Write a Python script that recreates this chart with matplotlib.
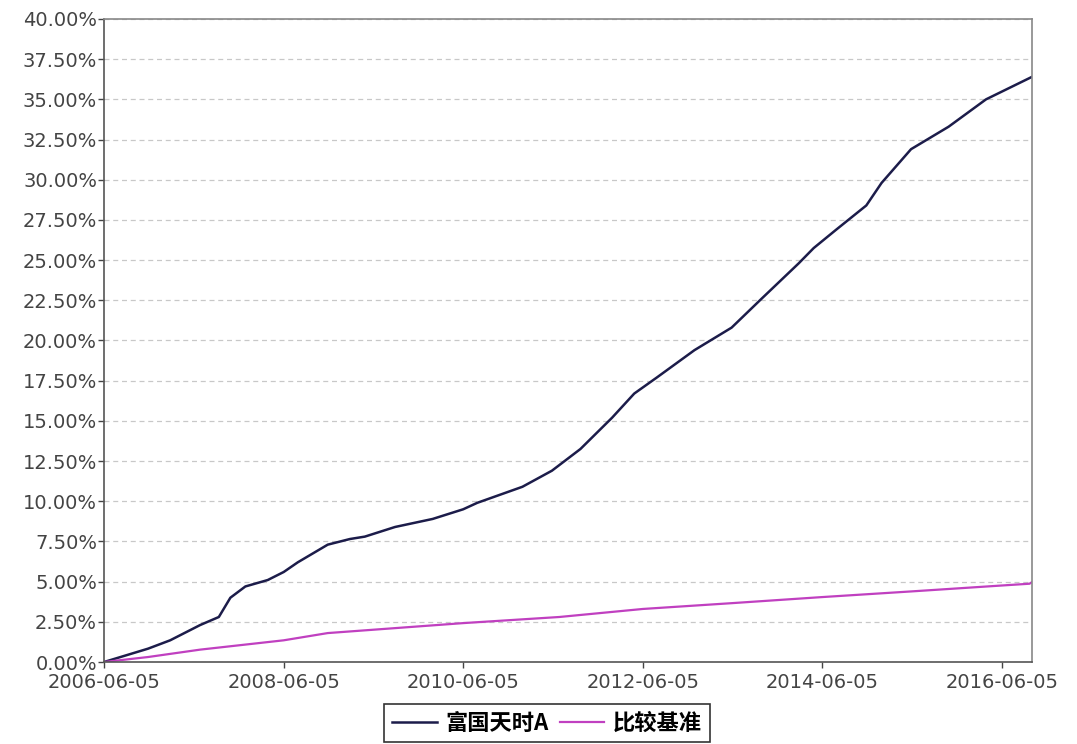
import matplotlib
matplotlib.use('Agg')
import matplotlib.pyplot as plt
import numpy as np
from datetime import datetime

# fund: 富国天时A, cumulative return (%)
fund_dates = ['2006-06-05', '2006-12-01', '2007-03-01', '2007-07-01', '2007-09-15',
              '2007-11-01', '2008-01-01', '2008-04-01', '2008-06-05', '2008-08-01',
              '2008-12-01', '2009-03-01', '2009-05-01', '2009-09-01', '2010-02-01',
              '2010-06-05', '2010-08-01', '2011-02-01', '2011-06-01', '2011-09-25',
              '2012-02-01', '2012-05-01', '2012-08-01', '2013-01-01', '2013-06-01',
              '2013-10-01', '2014-03-01', '2014-05-01', '2014-08-01', '2014-12-01',
              '2015-02-01', '2015-06-01', '2015-11-01', '2016-04-01', '2016-10-05']
fund_vals = [0.0, 0.83, 1.35, 2.3, 2.8,
             4.0, 4.7, 5.1, 5.6, 6.2,
             7.3, 7.65, 7.8, 8.4, 8.9,
             9.5, 9.9, 10.9, 11.9, 13.25,
             15.2, 16.7, 17.7, 19.4, 20.8,
             22.6, 24.8, 25.75, 26.9, 28.4,
             29.8, 31.9, 33.3, 35.0, 36.4]

# benchmark: 比较基准
bench_dates = ['2006-06-05', '2006-12-01', '2007-07-01', '2008-06-05', '2008-12-01',
               '2010-02-01', '2010-06-05', '2011-07-01', '2012-06-05', '2013-06-01',
               '2014-06-05', '2015-06-01', '2016-06-05', '2016-09-25', '2016-10-05']
bench_vals = [0.0, 0.31, 0.77, 1.35, 1.8,
              2.28, 2.42, 2.8, 3.3, 3.66,
              4.04, 4.39, 4.76, 4.87, 4.97]

fund_x = [datetime.strptime(d, '%Y-%m-%d') for d in fund_dates]
bench_x = [datetime.strptime(d, '%Y-%m-%d') for d in bench_dates]

tick_dates = ['2006-06-05', '2008-06-05', '2010-06-05', '2012-06-05', '2014-06-05', '2016-06-05']
tick_x = [datetime.strptime(d, '%Y-%m-%d') for d in tick_dates]

fig = plt.figure(figsize=(10.77, 7.44), dpi=100)
ax = fig.add_axes([0.0966, 0.1102, 0.8616, 0.8643])

l1, = ax.plot(fund_x, fund_vals, color='#1c1c4a', lw=1.8, label='富国天时A')
l2, = ax.plot(bench_x, bench_vals, color='#c040c0', lw=1.6, label='比较基准')

ax.set_xlim(fund_x[0], fund_x[-1])
ax.set_ylim(0, 40)
yt = np.arange(0, 40.01, 2.5)
ax.set_yticks(yt)
ax.set_yticklabels(['%.2f%%' % v for v in yt])
ax.set_xticks(tick_x)
ax.set_xticklabels(tick_dates)

ax.yaxis.grid(True, color='#c8c8c8', linestyle=(0, (4, 3)), lw=0.9)
ax.set_axisbelow(True)
for s in ax.spines.values():
    s.set_color('#888888')
    s.set_linewidth(1.2)
ax.spines['left'].set_color('#555555')
ax.spines['bottom'].set_color('#555555')

ax.tick_params(axis='both', colors='#444444', labelsize=14, length=4, width=1)
ax.tick_params(axis='y', pad=1)
ax.tick_params(axis='x', pad=4)

leg = fig.legend(handles=[l1, l2], loc='center', bbox_to_anchor=(0.508, 0.028), ncol=2,
                 frameon=True, fancybox=False, edgecolor='black', handlelength=2.0,
                 handletextpad=0.4, columnspacing=0.5, borderpad=0.35,
                 prop={'family': ['Noto Sans CJK SC', 'DejaVu Sans'], 'size': 16, 'weight': 'bold'})
leg.get_frame().set_linewidth(1.2)

fig.savefig('out.png', dpi=100)
